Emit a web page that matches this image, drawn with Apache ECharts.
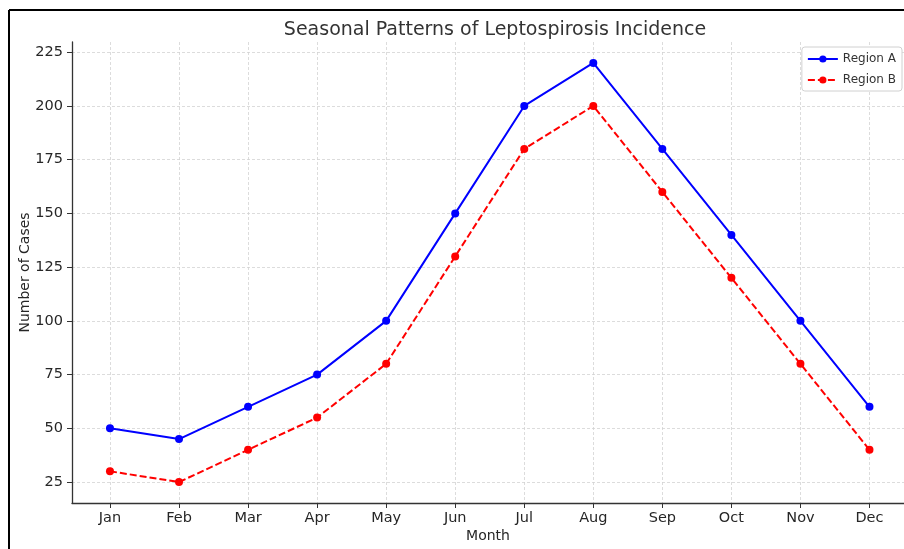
<!DOCTYPE html>
<html>
<head>
<meta charset="utf-8">
<script src="https://cdn.jsdelivr.net/npm/echarts@6/dist/echarts.min.js"></script>
<style>
  html, body { margin: 0; padding: 0; background: #fff; }
  #chart { width: 904px; height: 549px; }
</style>
</head>
<body>
<div id="chart"></div>
<script>
const months = ['Jan', 'Feb', 'Mar', 'Apr', 'May', 'Jun', 'Jul', 'Aug', 'Sep', 'Oct', 'Nov', 'Dec']
const regionA = [50, 45, 60, 75, 100, 150, 200, 220, 180, 140, 100, 60]
const regionB = [30, 25, 40, 55, 80, 130, 180, 200, 160, 120, 80, 40]
const yTicks = [25, 50, 75, 100, 125, 150, 175, 200, 225]

const font = 'DejaVu Sans'
const monthIdx = months.map((m, i) => i)

const myChart = echarts.init(document.getElementById('chart'))

const option = {
  animation: false,
  textStyle: { fontFamily: font },
  title: {
    text: 'Seasonal Patterns of Leptospirosis Incidence',
    left: 490,
    textAlign: 'center',
    top: 16,
    textStyle: { fontFamily: font, fontSize: 19, fontWeight: 'normal', color: '#333' }
  },
  legend: {
    right: 2,
    top: 47,
    orient: 'vertical',
    itemWidth: 30,
    itemHeight: 9,
    itemGap: 9,
    padding: [6, 6, 5, 5],
    borderColor: '#d0d0d0',
    borderWidth: 1,
    borderRadius: 3,
    backgroundColor: '#fff',
    textStyle: { fontFamily: font, fontSize: 12, color: '#333' },
    data: ['Region A', 'Region B']
  },
  // the right part of the plot is cut off by the picture edge
  grid: { left: 72, top: 42, right: 0, bottom: 46 },
  xAxis: {
    type: 'value',
    min: -0.55,
    max: 11.5,
    name: 'Month',
    nameLocation: 'middle',
    nameGap: 26,
    nameMoveOverlap: false,
    nameTextStyle: { fontFamily: font, fontSize: 14, color: '#262626' },
    axisLine: { onZero: false, lineStyle: { color: '#333', width: 1.3 } },
    axisTick: { show: true, customValues: monthIdx, length: 5, lineStyle: { color: '#333' } },
    axisLabel: {
      customValues: monthIdx,
      margin: 8,
      fontFamily: font,
      fontSize: 14.5,
      color: '#262626',
      formatter: (v) => months[Math.round(v)]
    },
    splitLine: { show: true, lineStyle: { color: '#d3d3d3', type: [3, 2], width: 0.8 } }
  },
  yAxis: {
    type: 'value',
    min: 15.25,
    max: 229.75,
    name: 'Number of Cases',
    nameLocation: 'middle',
    nameGap: 40,
    nameMoveOverlap: false,
    nameTextStyle: { fontFamily: font, fontSize: 14, color: '#262626' },
    axisLine: { show: true, onZero: false, lineStyle: { color: '#333', width: 1.3 } },
    axisTick: { show: true, customValues: yTicks, length: 5, lineStyle: { color: '#333' } },
    axisLabel: { customValues: yTicks, margin: 9, fontFamily: font, fontSize: 14.5, color: '#262626' },
    splitLine: { show: true, lineStyle: { color: '#d3d3d3', type: [3, 2], width: 0.8 } }
  },
  graphic: [
    { type: 'line', shape: { x1: 9, y1: 10, x2: 904, y2: 10 }, style: { stroke: '#000', lineWidth: 2 } },
    { type: 'line', shape: { x1: 9, y1: 10, x2: 9, y2: 549 }, style: { stroke: '#000', lineWidth: 2 } }
  ],
  series: [
    {
      name: 'Region A',
      type: 'line',
      data: regionA.map((v, i) => [i, v]),
      symbol: 'circle',
      symbolSize: 8,
      color: '#0000ff',
      lineStyle: { width: 2, color: '#0000ff' },
      itemStyle: { color: '#0000ff' }
    },
    {
      name: 'Region B',
      type: 'line',
      data: regionB.map((v, i) => [i, v]),
      symbol: 'circle',
      symbolSize: 8,
      color: '#ff0000',
      lineStyle: { width: 2, color: '#ff0000', type: [7, 3] },
      itemStyle: { color: '#ff0000' }
    }
  ]
}

myChart.setOption(option)
</script>
</body>
</html>
